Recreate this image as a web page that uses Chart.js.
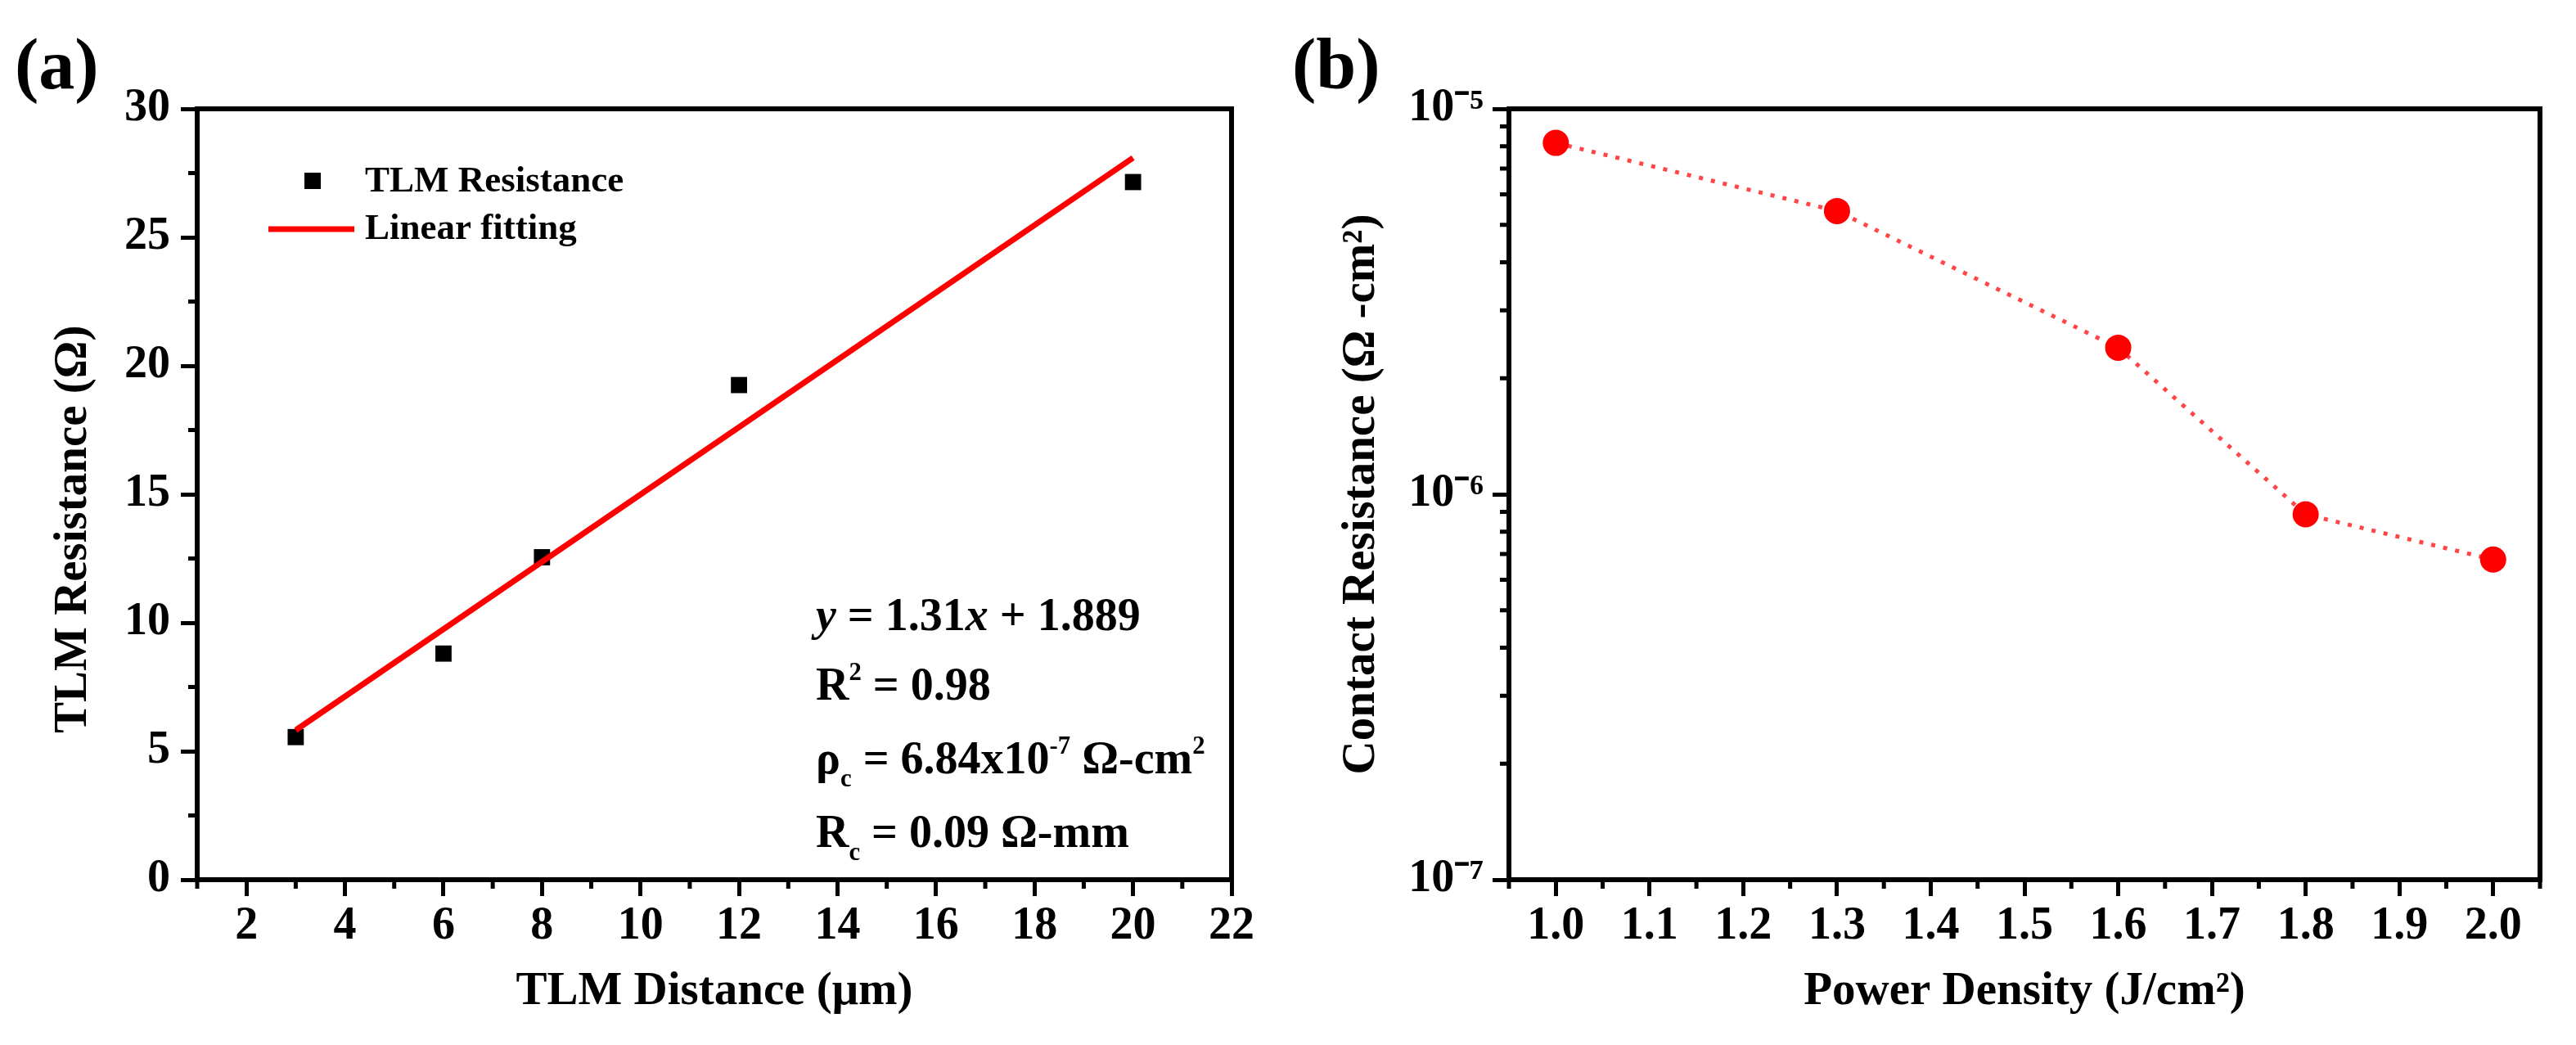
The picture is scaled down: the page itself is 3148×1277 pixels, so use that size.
<!DOCTYPE html>
<html>
<head>
<meta charset="utf-8">
<title>TLM resistance and contact resistance</title>
<script src="https://cdn.jsdelivr.net/npm/chart.js@4.4.1/dist/chart.umd.min.js"></script>
<style>
  html, body { margin: 0; padding: 0; background: #fff; }
  #wrap { position: relative; width: 3148px; height: 1277px; }
  .panel { position: absolute; top: 0; width: 1574px; height: 1277px; }
  #pa { left: 0; }
  #pb { left: 1574px; }
</style>
</head>
<body>
<div id="wrap">
  <div class="panel" id="pa"><canvas id="chartA"></canvas></div>
  <div class="panel" id="pb"><canvas id="chartB"></canvas></div>
</div>
<script>
// --- Panel (a): TLM data ---
const tlmDistance = [3, 6, 8, 12, 20];
const tlmResistance = [5.55, 8.8, 12.55, 19.25, 27.15];
const fitDistance = [3, 20];
const fitResistance = [5.82, 28.09];
const distanceTicks = [2, 4, 6, 8, 10, 12, 14, 16, 18, 20, 22];
const distanceMinor = [1, 3, 5, 7, 9, 11, 13, 15, 17, 19, 21];
const resistanceTicks = [0, 5, 10, 15, 20, 25, 30];
const resistanceMinor = [2.5, 7.5, 12.5, 17.5, 22.5, 27.5];

// --- Panel (b): contact resistance vs power density ---
const powerDensity = [1.0, 1.3, 1.6, 1.8, 2.0];
const contactResistance = [8.16e-6, 5.43e-6, 2.40e-6, 8.87e-7, 6.77e-7];
const powerTicks = [1.0, 1.1, 1.2, 1.3, 1.4, 1.5, 1.6, 1.7, 1.8, 1.9, 2.0];
const powerMinor = [0.95, 1.05, 1.15, 1.25, 1.35, 1.45, 1.55, 1.65, 1.75, 1.85, 1.95, 2.05];
const contactTicks = [1e-7, 1e-6, 1e-5];
const contactMinor = [2e-7, 3e-7, 4e-7, 5e-7, 6e-7, 7e-7, 8e-7, 9e-7,
                      2e-6, 3e-6, 4e-6, 5e-6, 6e-6, 7e-6, 8e-6, 9e-6];

(function () {
  'use strict';

  var SERIF = "'Liberation Serif', 'Times New Roman', serif";
  var SUP = { '0': '\u2070', '1': '\u00b9', '2': '\u00b2', '3': '\u00b3', '4': '\u2074',
              '5': '\u2075', '6': '\u2076', '7': '\u2077', '8': '\u2078', '9': '\u2079', '-': '\u207b' };

  function tickFont() { return { family: SERIF, size: 56, weight: 'bold', lineHeight: 1.2 }; }
  function titleFont() { return { family: SERIF, size: 57, weight: 'bold', lineHeight: 1.2 }; }

  function setTicks(list) {
    return function (scale) {
      scale.ticks = list.map(function (v) { return { value: v }; });
    };
  }

  function axisGrid() {
    return {
      display: true,
      drawOnChartArea: false,
      drawTicks: true,
      tickLength: 20,
      tickWidth: 5,
      tickColor: '#000',
      color: '#000',
      lineWidth: 5
    };
  }

  // rich text with italic / superscript / subscript runs, y = baseline
  function drawRich(ctx, x, y, parts, size) {
    parts.forEach(function (p) {
      var t = p[0], s = p[1] || 'n';
      var small = (s === 'sup' || s === 'sub');
      var fs = small ? size * 0.55 : size;
      var dy = s === 'sup' ? -size * 0.42 : (s === 'sub' ? size * 0.28 : 0);
      ctx.font = (s === 'i' ? 'italic ' : '') + 'bold ' + fs + 'px ' + SERIF;
      ctx.fillText(t, x, y + dy);
      x += ctx.measureText(t).width;
    });
  }

  // --- Frame, minor ticks and panel letter ---
  var framePlugin = {
    id: 'frame',
    afterDraw: function (chart, args, opts) {
      var ctx = chart.ctx;
      var a = chart.chartArea;
      var xs = chart.scales.x, ys = chart.scales.y;
      ctx.save();
      ctx.strokeStyle = '#000';
      ctx.lineWidth = 6;
      ctx.beginPath();
      ctx.moveTo(a.left - 3, a.top);
      ctx.lineTo(a.right, a.top);
      ctx.lineTo(a.right, a.bottom + 3);
      ctx.stroke();

      ctx.lineWidth = 5;
      ctx.beginPath();
      (opts.minorX || []).forEach(function (v) {
        var px = xs.getPixelForValue(v);
        ctx.moveTo(px, a.bottom);
        ctx.lineTo(px, a.bottom + 11);
      });
      (opts.minorY || []).forEach(function (v) {
        var py = ys.getPixelForValue(v);
        ctx.moveTo(a.left, py);
        ctx.lineTo(a.left - 11, py);
      });
      ctx.stroke();

      ctx.fillStyle = '#000';
      ctx.font = 'bold 88px ' + SERIF;
      ctx.textAlign = 'left';
      ctx.textBaseline = 'alphabetic';
      ctx.fillText(opts.letter || '', opts.letterX || 18, 108);
      ctx.restore();
    }
  };

  // --- Legend and fit annotation for panel (a) ---
  var notesPlugin = {
    id: 'notesA',
    afterDraw: function (chart) {
      var ctx = chart.ctx;
      ctx.save();
      ctx.fillStyle = '#000';
      ctx.fillRect(372, 211, 20, 20);
      ctx.strokeStyle = '#ff0000';
      ctx.lineWidth = 7;
      ctx.beginPath();
      ctx.moveTo(328, 280);
      ctx.lineTo(433, 280);
      ctx.stroke();

      ctx.font = 'bold 45px ' + SERIF;
      ctx.textAlign = 'left';
      ctx.textBaseline = 'middle';
      ctx.fillText('TLM Resistance', 446, 222);
      ctx.fillText('Linear fitting', 446, 280);

      ctx.textBaseline = 'alphabetic';
      var x0 = 997, size = 56;
      drawRich(ctx, x0, 770, [['y', 'i'], [' = 1.31'], ['x', 'i'], [' + 1.889']], size);
      drawRich(ctx, x0, 855, [['R'], ['2', 'sup'], [' = 0.98']], size);
      drawRich(ctx, x0, 945, [['\u03c1'], ['c', 'sub'], [' = 6.84x10'], ['-7', 'sup'], [' \u03a9-cm'], ['2', 'sup']], size);
      drawRich(ctx, x0, 1035, [['R'], ['c', 'sub'], [' = 0.09 \u03a9-mm']], size);
      ctx.restore();
    }
  };

  // --- Chart (a) ---
  new Chart(document.getElementById('chartA'), {
    type: 'scatter',
    data: {
      datasets: [{
        label: 'TLM Resistance',
        data: tlmDistance.map(function (d, i) { return { x: d, y: tlmResistance[i] }; }),
        pointStyle: 'rect',
        pointRadius: 14,
        pointBackgroundColor: '#000',
        pointBorderWidth: 0,
        order: 1
      }, {
        label: 'Linear fitting',
        data: fitDistance.map(function (d, i) { return { x: d, y: fitResistance[i] }; }),
        showLine: true,
        borderColor: '#ff0000',
        borderWidth: 7,
        pointRadius: 0,
        order: 0
      }]
    },
    options: {
      responsive: true,
      maintainAspectRatio: false,
      animation: false,
      devicePixelRatio: 1,
      layout: { padding: { top: 133, right: 69, left: 0, bottom: 0 } },
      plugins: {
        legend: { display: false },
        tooltip: { enabled: false },
        frame: { minorX: distanceMinor, minorY: resistanceMinor, letter: '(a)', letterX: 18 }
      },
      scales: {
        x: {
          type: 'linear',
          min: 1,
          max: 22,
          afterBuildTicks: setTicks(distanceTicks),
          afterFit: function (s) { s.height = 202; },
          grid: axisGrid(),
          border: { display: true, width: 6, color: '#000' },
          ticks: { font: tickFont(), color: '#000', padding: 4, maxRotation: 0, autoSkip: false },
          title: { display: true, text: 'TLM Distance (\u03bcm)', font: titleFont(), color: '#000',
                   padding: { top: 31, bottom: 31 } }
        },
        y: {
          type: 'linear',
          min: 0,
          max: 30,
          afterBuildTicks: setTicks(resistanceTicks),
          afterFit: function (s) { s.width = 241; },
          grid: axisGrid(),
          border: { display: true, width: 6, color: '#000' },
          ticks: { font: tickFont(), color: '#000', padding: 13, autoSkip: false },
          title: { display: true, text: 'TLM Resistance (\u03a9)\u00a0\u00a0\u00a0\u00a0\u00a0\u00a0',
                   font: titleFont(), color: '#000', padding: { top: 56, bottom: 56 } }
        }
      }
    },
    plugins: [framePlugin, notesPlugin]
  });

  // --- Chart (b) ---
  new Chart(document.getElementById('chartB'), {
    type: 'scatter',
    data: {
      datasets: [{
        label: 'Contact Resistance',
        data: powerDensity.map(function (p, i) { return { x: p, y: contactResistance[i] }; }),
        showLine: true,
        borderColor: 'rgba(255, 50, 50, 0.9)',
        borderWidth: 5,
        borderDash: [5, 10],
        pointRadius: 16,
        pointBackgroundColor: '#ff0000',
        pointBorderWidth: 0
      }]
    },
    options: {
      responsive: true,
      maintainAspectRatio: false,
      animation: false,
      devicePixelRatio: 1,
      layout: { padding: { top: 133, right: 44, left: 0, bottom: 0 } },
      plugins: {
        legend: { display: false },
        tooltip: { enabled: false },
        frame: { minorX: powerMinor, minorY: contactMinor, letter: '(b)', letterX: 5 }
      },
      scales: {
        x: {
          type: 'linear',
          min: 0.95,
          max: 2.05,
          afterBuildTicks: setTicks(powerTicks),
          afterFit: function (s) { s.height = 202; },
          grid: axisGrid(),
          border: { display: true, width: 6, color: '#000' },
          ticks: {
            font: tickFont(), color: '#000', padding: 4, maxRotation: 0, autoSkip: false,
            callback: function (v) { return Number(v).toFixed(1); }
          },
          title: { display: true, text: 'Power Density (J/cm\u00b2)', font: titleFont(), color: '#000',
                   padding: { top: 31, bottom: 31 } }
        },
        y: {
          type: 'logarithmic',
          min: 1e-7,
          max: 1e-5,
          afterBuildTicks: setTicks(contactTicks),
          afterFit: function (s) { s.width = 270; },
          grid: axisGrid(),
          border: { display: true, width: 6, color: '#000' },
          ticks: {
            font: tickFont(), color: '#000', padding: 11, autoSkip: false,
            callback: function (v) {
              var e = String(Math.round(Math.log10(v)));
              return '10' + e.split('').map(function (c) { return SUP[c]; }).join('');
            }
          },
          title: { display: true, text: 'Contact Resistance (\u03a9 -cm\u00b2)', font: titleFont(), color: '#000',
                   padding: { top: 56, bottom: 56 } }
        }
      }
    },
    plugins: [framePlugin]
  });
})();
</script>
</body>
</html>
